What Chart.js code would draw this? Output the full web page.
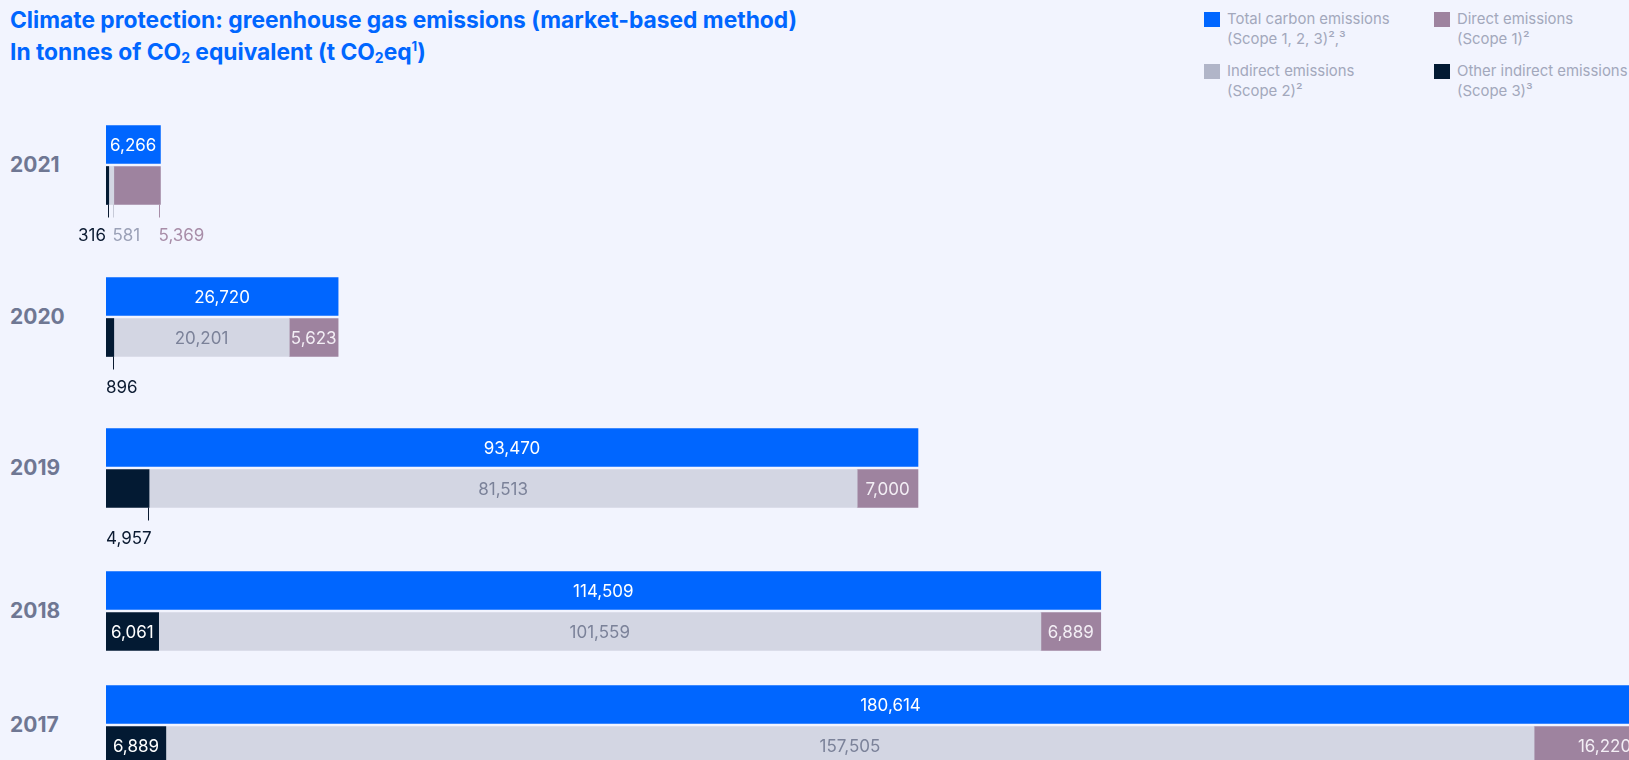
<!DOCTYPE html>
<html>
<head>
<meta charset="utf-8">
<script src="https://cdn.jsdelivr.net/npm/chart.js@4.4.1/dist/chart.umd.min.js"></script>
<style>
  html, body { margin: 0; padding: 0; }
  body {
    width: 1629px; height: 760px; overflow: hidden; position: relative;
    background: #f2f4fe; font-family: Inter, "Noto Sans", sans-serif;
  }
  .title {
    position: absolute; left: 10px; top: 4px;
    color: #0066ff; font-weight: 700; font-size: 22.8px; line-height: 32px;
  }
  .title sub { font-size: 14px; vertical-align: -3px; line-height: 0; }
  .title sup { font-size: 13px; vertical-align: 9px; line-height: 0; }
  .legend-item { position: absolute; color: #a3a8bc; font-size: 14.9px; line-height: 20px; }
  .legend-item .sw { position: absolute; left: -23px; top: 3px; width: 16px; height: 15px; }
  .year {
    position: absolute; left: 10px; color: #6f7793; font-weight: 700;
    font-size: 21px; line-height: 24px; margin-top: -12px;
  }
  canvas.yr { position: absolute; left: 0; }
</style>
</head>
<body>
<div class="title">
  Climate protection: greenhouse gas emissions (market-based method)<br>
  In tonnes of CO<sub>2</sub> equivalent (t CO<sub>2</sub>eq<sup>1</sup>)
</div>

<div class="legend-item" style="left:1227px; top:9px;"><span class="sw" style="background:#0066ff"></span>Total carbon emissions<br>(Scope 1, 2, 3)²,³</div>
<div class="legend-item" style="left:1457px; top:9px;"><span class="sw" style="background:#9e839f"></span>Direct emissions<br>(Scope 1)²</div>
<div class="legend-item" style="left:1227px; top:61px;"><span class="sw" style="background:#b1b5c8"></span>Indirect emissions<br>(Scope 2)²</div>
<div class="legend-item" style="left:1457px; top:61px;"><span class="sw" style="background:#031a33"></span>Other indirect emissions<br>(Scope 3)³</div>

<script>
// Daten (t CO2eq)
const years = ['2021', '2020', '2019', '2018', '2017'];
const totalEmissions = [6266, 26720, 93470, 114509, 180614];
const scope3 = [316, 896, 4957, 6061, 6889];
const scope2 = [581, 20201, 81513, 101559, 157505];
const scope1 = [5369, 5623, 7000, 6889, 16220];

// Layout
const blockTops = [124, 276, 427, 570, 684];
const PLOT_LEFT = 106;
const PLOT_WIDTH = 1569;
const BAR_AREA = 82;
const BELOW = 50;
const xMax = Math.max(...totalEmissions);

// Wertebeschriftungen innen / außen mit Hilfslinie
const valueLabels = {
  id: 'valueLabels',
  afterDatasetsDraw(chart) {
    const ctx = chart.ctx;
    const outside = [];
    ctx.save();
    ctx.font = '17px Inter, "Noto Sans", sans-serif';
    ctx.textBaseline = 'middle';
    chart.data.datasets.forEach((ds, di) => {
      const meta = chart.getDatasetMeta(di);
      meta.data.forEach((bar, i) => {
        const v = ds.data[i];
        if (v == null) return;
        const left = Math.min(bar.x, bar.base);
        const right = Math.max(bar.x, bar.base);
        const text = v.toLocaleString('en-US');
        if (right - left >= 48) {
          ctx.fillStyle = ds.labelColor;
          ctx.textAlign = 'center';
          ctx.fillText(text, (left + right) / 2, bar.y + 1);
        } else {
          outside.push({ text, right, bottom: bar.y + bar.height / 2, ds });
        }
      });
    });
    const start = chart.chartArea.left;
    outside.forEach((o, k) => {
      const lx = Math.round(o.right) - 0.5;
      ctx.strokeStyle = o.ds.lineColor;
      ctx.lineWidth = 1;
      ctx.beginPath();
      ctx.moveTo(lx, o.bottom);
      ctx.lineTo(lx, o.bottom + 13);
      ctx.stroke();
      ctx.fillStyle = o.ds.outColor;
      const ty = o.bottom + 31;
      if (outside.length === 1) {
        ctx.textAlign = 'left';
        ctx.fillText(o.text, start, ty);
      } else if (k === 0) {
        ctx.textAlign = 'right';
        ctx.fillText(o.text, start, ty);
      } else {
        ctx.textAlign = 'left';
        ctx.fillText(o.text, lx - 1, ty);
      }
    });
    ctx.restore();
  }
};

const charts = [];
years.forEach((year, i) => {
  const top = blockTops[i];

  const lbl = document.createElement('div');
  lbl.className = 'year';
  lbl.style.top = (top + BAR_AREA / 2) + 'px';
  lbl.textContent = year;
  document.body.appendChild(lbl);

  const cv = document.createElement('canvas');
  cv.className = 'yr';
  cv.width = PLOT_LEFT + PLOT_WIDTH;
  cv.height = BAR_AREA + BELOW;
  cv.style.top = top + 'px';
  document.body.appendChild(cv);

  charts.push(new Chart(cv, {
    type: 'bar',
    data: {
      labels: ['total', 'scopes'],
      datasets: [
        { label: 'Total carbon emissions', data: [totalEmissions[i], null],
          backgroundColor: '#0066ff', labelColor: '#ffffff', outColor: '#0066ff', lineColor: '#0066ff' },
        { label: 'Other indirect emissions', data: [null, scope3[i]],
          backgroundColor: '#031a33', labelColor: '#ffffff', outColor: '#0b1a31', lineColor: '#0b1a31' },
        { label: 'Indirect emissions', data: [null, scope2[i]],
          backgroundColor: '#d3d6e3', labelColor: '#7b8299', outColor: '#9ba1b7', lineColor: '#c7cad8' },
        { label: 'Direct emissions', data: [null, scope1[i]],
          backgroundColor: '#9e839f', labelColor: '#f3eef5', outColor: '#a88da8', lineColor: '#a88da8' }
      ]
    },
    options: {
      responsive: false,
      animation: false,
      indexAxis: 'y',
      barThickness: 38,
      layout: { padding: { left: PLOT_LEFT, right: 0, top: 0, bottom: BELOW } },
      scales: {
        x: { stacked: true, min: 0, max: xMax, display: false },
        y: { stacked: true, display: false }
      },
      plugins: {
        legend: { display: false },
        tooltip: { enabled: false }
      }
    },
    plugins: [valueLabels]
  }));
});
</script>
</body>
</html>
